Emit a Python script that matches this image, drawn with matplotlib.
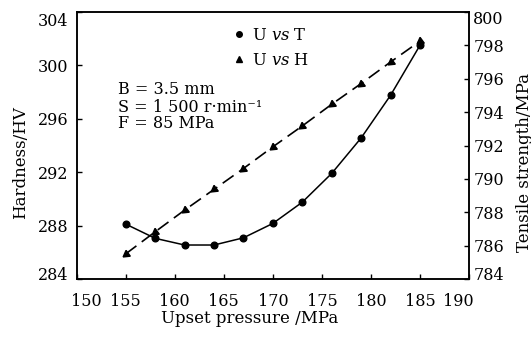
import matplotlib
matplotlib.use("Agg")
import matplotlib.pyplot as plt
from matplotlib.lines import Line2D
from matplotlib.transforms import ScaledTranslation

plt.rcParams['font.family'] = ['DejaVu Serif']
plt.rcParams['mathtext.fontset'] = 'dejavuserif'

pressure = [155, 158, 161, 164, 167, 170, 173, 176, 179, 182, 185]
tensile = [787.3, 786.45, 786.05, 786.05, 786.48, 787.34, 788.61, 790.33, 792.45, 795.0, 797.99]
hardness = [285.9, 287.55, 289.17, 290.72, 292.28, 293.9, 295.46, 297.08, 298.63, 300.24, 301.8]

x_ticks = [150, 155, 160, 165, 170, 175, 180, 185, 190]
h_ticks = [284, 288, 292, 296, 300, 304]
t_ticks = [784, 786, 788, 790, 792, 794, 796, 798, 800]

fig = plt.figure(figsize=(5.31, 3.41), dpi=100)
ax = fig.add_axes([76.7/531, 1-279.3/341, (469-76.7)/531, (279.3-11.7)/341])
ax2 = ax.twinx()

ax.plot(pressure, hardness, color='black', lw=1.2, dashes=[8, 4],
        marker=(3, 0, 126), markersize=6, zorder=3)
ax2.plot(pressure, tensile, color='black', lw=1.1, marker='o', markersize=4.8, zorder=3)

ax.set_xlim(150, 190)
ax.set_ylim(284, 304)
ax2.set_ylim(784, 800)
ax.set_xticks(x_ticks)
ax.set_yticks(h_ticks)
ax2.set_yticks(t_ticks)
ax.set_xticklabels([str(v) for v in x_ticks])
ax.set_yticklabels([str(v) for v in h_ticks])
ax2.set_yticklabels([str(v) for v in t_ticks])

fs_tick = 11.5
ax.tick_params(axis='x', direction='in', length=3.6, width=1, pad=10, labelsize=fs_tick)
ax.tick_params(axis='y', direction='in', length=3.6, width=1, pad=6, labelsize=fs_tick)
ax2.tick_params(axis='y', direction='in', length=3.6, width=1, pad=3, labelsize=fs_tick)
for a in (ax, ax2):
    for s in a.spines.values():
        s.set_linewidth(1.1)

# shift end labels inward
def shift(lbl, dx, dy):
    lbl.set_transform(lbl.get_transform() + ScaledTranslation(dx/100, dy/100, fig.dpi_scale_trans))

xl = ax.get_xticklabels()
shift(xl[0], 10, 0)
shift(xl[-1], -11, 0)
yl = ax.get_yticklabels()
shift(yl[0], 0, 6)
shift(yl[-1], 0, -8)
yl2 = ax2.get_yticklabels()
shift(yl2[0], 0, 6)
shift(yl2[-1], 0, -6)

fs_lab = 12
ax.set_xlabel('Upset pressure /MPa', fontsize=fs_lab)
ax.xaxis.set_label_coords(0.442, -0.115)
ax.set_ylabel('Hardness/HV', fontsize=fs_lab)
ax.yaxis.set_label_coords(-0.122, 0.435)
ax2.set_ylabel('Tensile strength/MPa', fontsize=fs_lab)
ax2.yaxis.set_label_coords(1.121, 0.435)

handles = [Line2D([], [], color='black', marker='o', linestyle='none', markersize=4),
           Line2D([], [], color='black', marker='^', linestyle='none', markersize=5)]
labels = [r'U $\mathit{vs}$ T', r'U $\mathit{vs}$ H']
ax2.legend(handles, labels, loc='upper left', frameon=False, fontsize=11.8,
           bbox_to_anchor=((232.5-76.7)/392.3, (279.3-27)/267.6),
           handlelength=0.8, handletextpad=0.4, labelspacing=0.5, borderpad=0, borderaxespad=0)

ax.text((118-76.7)/392.3, (279.3-107)/267.6,
        'B = 3.5 mm\nS = 1 500 r·min⁻¹\nF = 85 MPa',
        transform=ax.transAxes, fontsize=11.5, ha='left', va='center', linespacing=1.0)
fig.savefig('out.png', dpi=100)
